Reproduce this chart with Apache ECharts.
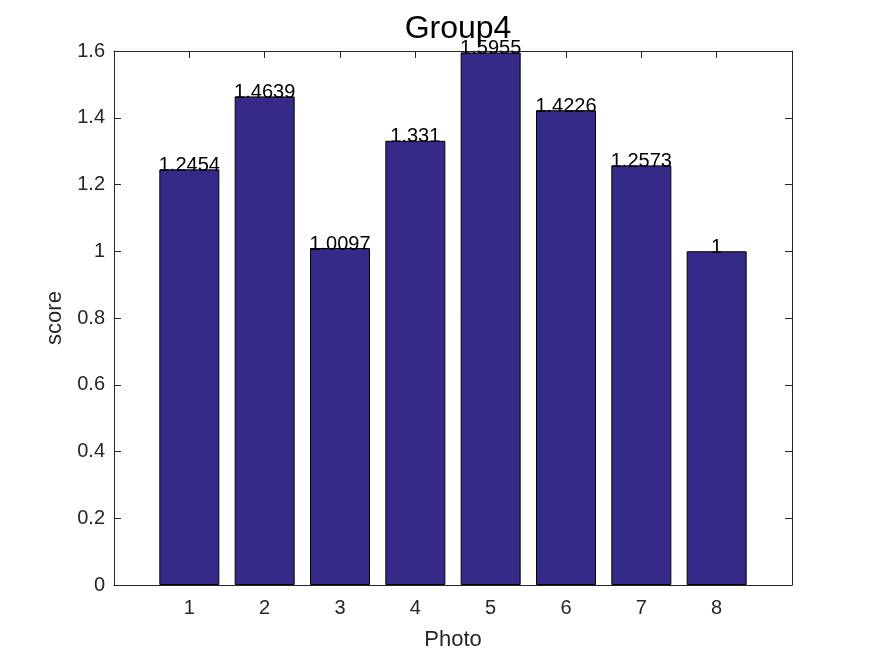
<!DOCTYPE html>
<html><head><meta charset="utf-8">
<script src="https://cdn.jsdelivr.net/npm/echarts@6/dist/echarts.min.js"></script>
<style>html,body{margin:0;padding:0;background:#fff}#c{width:875px;height:656px}</style>
</head><body><div id="c"></div>
<script>
var categories = [1, 2, 3, 4, 5, 6, 7, 8];
var scores = [1.2454, 1.4639, 1.0097, 1.331, 1.5955, 1.4226, 1.2573, 1];
var valueLabels = ['1.2454', '1.4639', '1.0097', '1.331', '1.5955', '1.4226', '1.2573', '1'];

var chart = echarts.init(document.getElementById('c'), null, {renderer: 'canvas'});
var font = '"Liberation Sans", Arial, Helvetica, sans-serif';
var axisCol = '#262626';
var data = categories.map(function (c, i) { return [c, scores[i]]; });

chart.setOption({
  animation: false,
  backgroundColor: '#fff',
  title: {
    text: 'Group4', left: 453, top: 8, textAlign: 'center',
    textStyle: {fontFamily: font, fontSize: 32, fontWeight: 'normal', color: '#000'}
  },
  grid: {left: 114, right: 83, top: 51, bottom: 71},
  xAxis: [{
    type: 'value', min: 0, max: 9, interval: 1, position: 'bottom',
    name: 'Photo', nameLocation: 'middle', nameGap: 44,
    nameTextStyle: {fontFamily: font, fontSize: 22, color: axisCol},
    axisLine: {onZero: false, lineStyle: {color: axisCol, width: 1}},
    axisTick: {inside: true, length: 7, lineStyle: {color: axisCol}},
    axisLabel: {
      fontFamily: font, fontSize: 20, color: axisCol, margin: 13,
      formatter: function (v) { return (v >= 1 && v <= 8) ? String(v) : ''; }
    },
    splitLine: {show: false}
  }, {
    type: 'value', min: 0, max: 9, interval: 1, position: 'top',
    axisLine: {onZero: false, lineStyle: {color: axisCol, width: 1}},
    axisTick: {inside: true, length: 7, lineStyle: {color: axisCol}},
    axisLabel: {show: false}, splitLine: {show: false}
  }],
  yAxis: [{
    type: 'value', min: 0, max: 1.6, interval: 0.2, position: 'left',
    name: 'score', nameLocation: 'middle', nameGap: 44, nameRotate: 90,
    nameTextStyle: {fontFamily: font, fontSize: 22, color: axisCol},
    axisLine: {show: true, onZero: false, lineStyle: {color: axisCol, width: 1}},
    axisTick: {show: true, inside: true, length: 7, lineStyle: {color: axisCol}},
    axisLabel: {fontFamily: font, fontSize: 20, color: axisCol, margin: 9,
      formatter: function (v) { return String(Math.round(v * 10) / 10); }},
    splitLine: {show: false}
  }, {
    type: 'value', min: 0, max: 1.6, interval: 0.2, position: 'right',
    axisLine: {show: true, onZero: false, lineStyle: {color: axisCol, width: 1}},
    axisTick: {show: true, inside: true, length: 7, lineStyle: {color: axisCol}},
    axisLabel: {show: false}, splitLine: {show: false}
  }],
  series: [{
    type: 'bar', data: data, barWidth: 60,
    xAxisIndex: 0, yAxisIndex: 0,
    itemStyle: {color: '#352a87', borderColor: '#000', borderWidth: 1},
    label: {
      show: true, position: 'top', distance: -6,
      fontFamily: font, fontSize: 20, color: '#000',
      formatter: function (p) { return valueLabels[p.dataIndex]; }
    }
  }]
});
</script></body></html>
